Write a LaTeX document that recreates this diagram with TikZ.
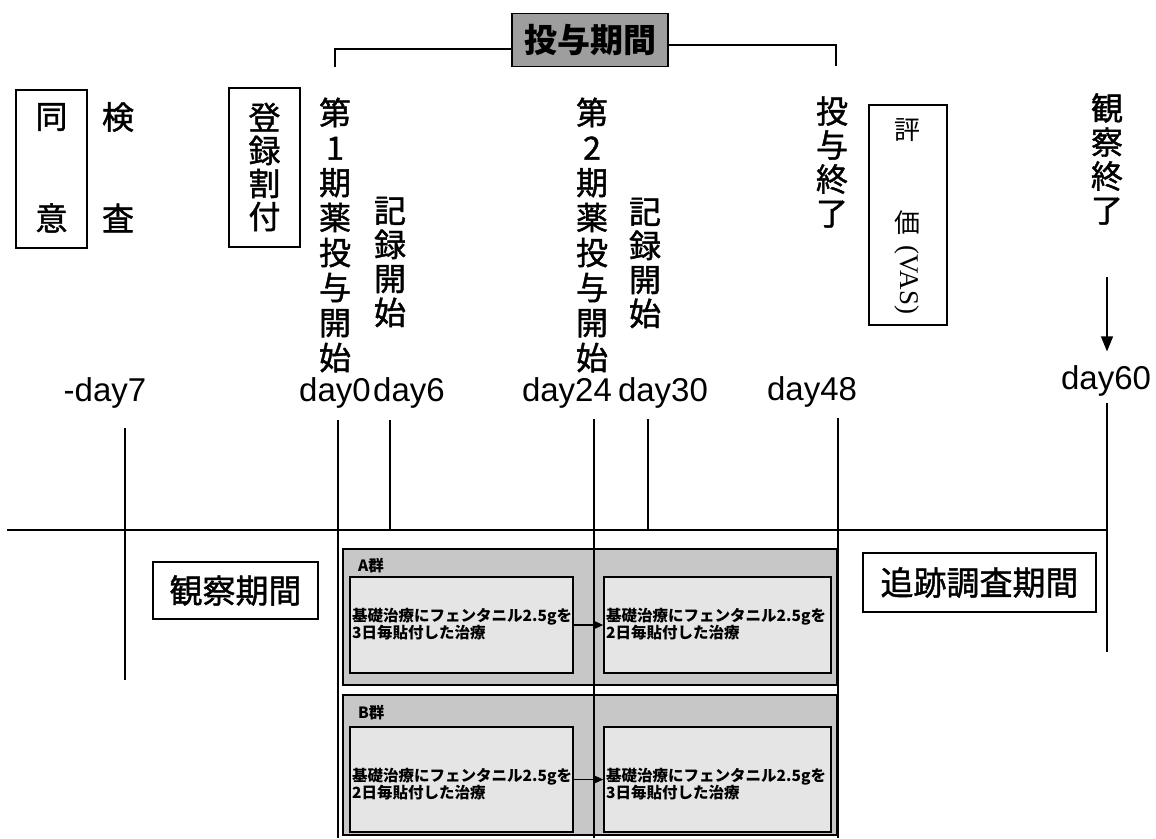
\documentclass[tikz,border=0pt]{standalone}
\usepackage{fontspec}
\setmainfont{Liberation Sans}
\newfontfamily\cjk{Noto Sans CJK JP}
\newfontfamily\cjkm[FakeBold=1.3]{Noto Sans CJK JP}
\newfontfamily\serifl{Liberation Serif}
\usetikzlibrary{arrows.meta}
\tikzset{
  ln/.style={line width=1.2pt},
  vt/.style={font=\cjkm\fontsize{32}{35}\selectfont, align=center, inner sep=0pt},
  vts/.style={font=\cjkm\fontsize{32}{34}\selectfont, align=center, inner sep=0pt},
  lab/.style={font=\fontsize{33}{36}\selectfont, inner sep=0pt},
  frame/.style={draw, line width=1.6pt, inner sep=0pt},
  outerg/.style={draw, line width=1.4pt, fill=black!22, inner sep=0pt},
  innerg/.style={draw, line width=1.6pt, fill=black!10, inner sep=0pt},
  gtxt/.style={font=\cjk\bfseries\fontsize{15.5}{17}\selectfont, align=left, inner sep=0pt},
  big/.style={font=\cjkm\fontsize{33}{36}\selectfont},
}
\begin{document}
\begin{tikzpicture}[x=1pt,y=-1pt]
\useasboundingbox (0,0) rectangle (1156,838);
\fill[white] (0,0) rectangle (1156,838);

% title bracket
\node[frame, fill=black!38, minimum width=156pt, minimum height=53pt, font=\cjk\bfseries\fontsize{33}{36}\selectfont] (title) at (590,40) {投与期間};
\coordinate (bl) at (335,67);
\coordinate (blt) at (335,49);
\coordinate (br) at (836,66);
\coordinate (brt) at (836,45);
\draw[ln] (bl) -- (blt) -- (blt -| title.west);
\draw[ln] (br) -- (brt) -- (brt -| title.east);

% consent / exam
\node[frame, minimum width=71pt, minimum height=158pt] (cbox) at (51.5,169) {};
\node[vt] (c1) at (51.5,117) {同};
\node[vt] (c2) at (51.5,218) {意};
\node[vt] (e1) at (118,117) {検};
\node[vt] (e2) at (118,218) {査};

% registration
\node[frame, minimum width=71pt, minimum height=159pt] (reg) at (264.5,167.5) {};
\node[font=\cjkm\fontsize{32}{33}\selectfont, align=center, inner sep=0pt] (regt) at (264.5,167) {登\\録\\割\\付};

% vertical labels
\node[vt] (p1) at (335,235) {第\\1\\期\\薬\\投\\与\\開\\始};
\node[vts] (r1) at (390,262) {記\\録\\開\\始};
\node[vt] (p2) at (592,235) {第\\2\\期\\薬\\投\\与\\開\\始};
\node[vts] (r2) at (645,263) {記\\録\\開\\始};
\node[vts] (fin) at (832,162) {投\\与\\終\\了};
\node[vts] (obs) at (1107,159) {観\\察\\終\\了};

% evaluation box
\node[frame, minimum width=78pt, minimum height=220pt] (eval) at (908,215) {};
\node[font=\cjk\fontsize{26}{28}\selectfont, inner sep=0pt] (ev1) at (907,130) {評};
\node[font=\cjk\fontsize{26}{28}\selectfont, inner sep=0pt] (ev2) at (907,223) {価};
\node[font=\serifl\fontsize{27}{30}\selectfont, inner sep=0pt, rotate=-90] (ev3) at (907,280) {(VAS)};

% arrow to day60
\coordinate (arrs) at (1107,277);
\node[lab] (d60) at (1106,381) {day60};
\draw[ln, shorten >=14pt, -{Triangle[length=15pt,width=12pt]}] (arrs) -- (d60.north -| arrs);

% day labels
\node[lab] (dm7) at (105,393) {-day7};
\node[lab] (d0) at (335,393) {day0};
\node[lab] (d6) at (409,393) {day6};
\node[lab] (d24) at (567,393) {day24};
\node[lab] (d30) at (663,393) {day30};
\node[lab] (d48) at (812,392) {day48};

% group boxes
\node[outerg, minimum width=494pt, minimum height=136pt] (ga) at (590,617) {};
\node[outerg, minimum width=494pt, minimum height=140pt] (gb) at (590,765) {};
\node[gtxt, anchor=west] (ga-l) at (358,566) {A群};
\node[gtxt, anchor=west] (gb-l) at (358,713) {B群};
\node[innerg, minimum width=223pt, minimum height=96pt] (aL) at (461.5,625) {};
\node[innerg, minimum width=227pt, minimum height=96pt] (aR) at (717.5,625) {};
\node[innerg, minimum width=223pt, minimum height=105pt] (bL) at (461.5,779.5) {};
\node[innerg, minimum width=227pt, minimum height=105pt] (bR) at (717.5,779.5) {};
\node[gtxt, anchor=west] (aLt) at (352,624) {基礎治療にフェンタニル2.5gを\\3日毎貼付した治療};
\node[gtxt, anchor=west] (aRt) at (606,624) {基礎治療にフェンタニル2.5gを\\2日毎貼付した治療};
\node[gtxt, anchor=west] (bLt) at (352,784) {基礎治療にフェンタニル2.5gを\\2日毎貼付した治療};
\node[gtxt, anchor=west] (bRt) at (606,784) {基礎治療にフェンタニル2.5gを\\3日毎貼付した治療};
\draw[line width=1.2pt, -{Triangle[length=8pt,width=7pt]}] (aL.east) -- (aR.west);
\draw[line width=1.2pt, -{Triangle[length=8pt,width=7pt]}] (bL.east) -- (bR.west);

% timeline
\coordinate (hl) at (7,530);
\coordinate (hr) at (1107,530);
\draw[ln] (hl) -- (hr);
\coordinate (em7) at (125,680);
\coordinate (e0) at (338,838);
\coordinate (e6) at (390,530);
\coordinate (e24) at (594,838);
\coordinate (e30) at (648,530);
\coordinate (e48) at (838,838);
\coordinate (e60) at (1107,652);
\draw[ln] (125,428) -- (em7);
\draw[ln] (338,420) -- (e0);
\draw[ln] (390,420) -- (e6);
\draw[ln] (594,419) -- (e24);
\draw[ln] (648,419) -- (e30);
\draw[ln] (838,418) -- (e48);
\draw[ln] (1107,403) -- (e60);

% period boxes
\node[frame, minimum width=165pt, minimum height=57pt, big] (obsp) at (235.5,590.5) {観察期間};
\node[frame, minimum width=233pt, minimum height=59pt, big] (folp) at (979.5,582.5) {追跡調査期間};
\end{tikzpicture}
\end{document}
